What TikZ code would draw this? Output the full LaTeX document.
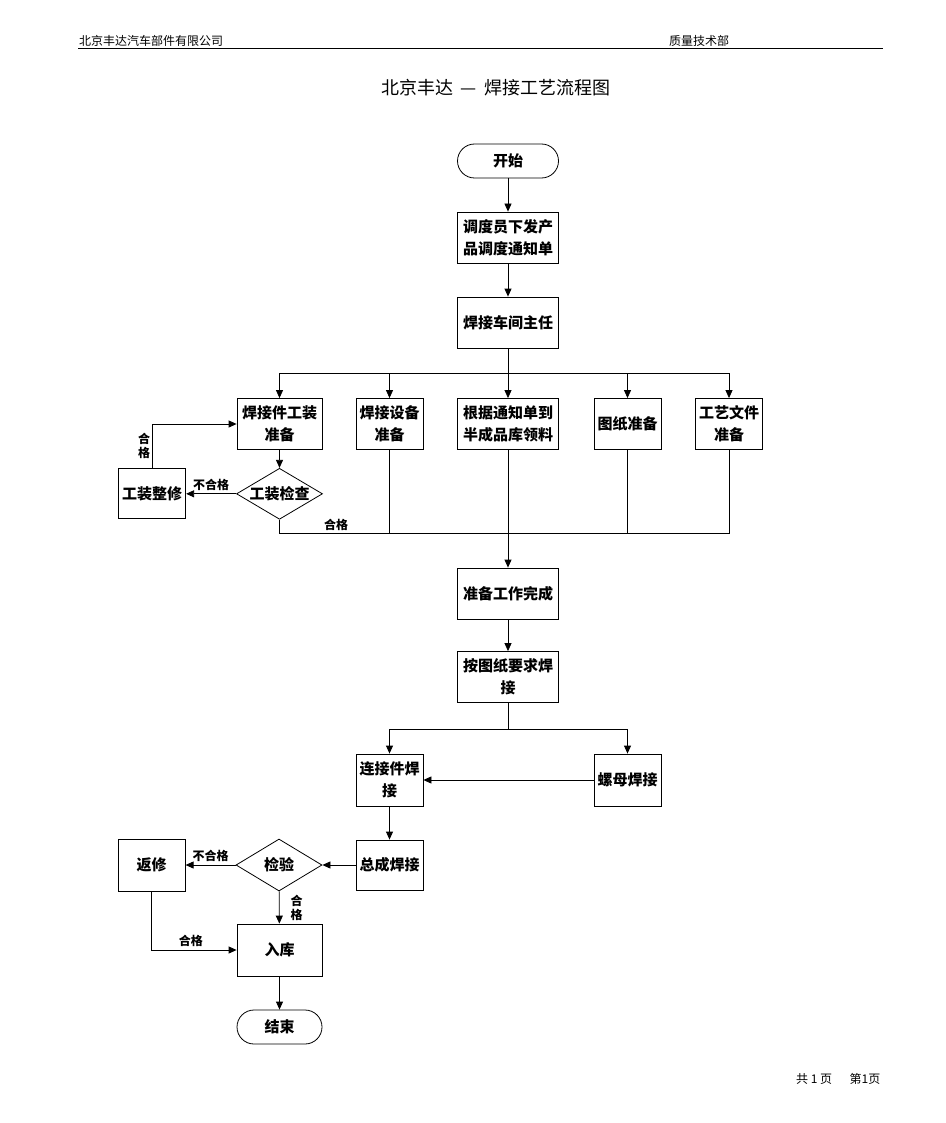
\documentclass[tikz,border=0pt]{standalone}
\usepackage{fontspec}
\setmainfont{Noto Sans CJK SC}
\usepackage{tikz}
\usetikzlibrary{shapes.geometric, arrows.meta, positioning}

\begin{document}
\begin{tikzpicture}[
        x=1pt, y=-1pt,
        >={Triangle[length=8pt,width=7pt]},
        terminal/.style={rectangle, rounded corners=17pt, minimum width=85pt, minimum height=34pt, text centered, draw=black, line width=0.8pt, font=\fontsize{15}{22}\selectfont\bfseries},
        process/.style={rectangle, minimum width=101pt, minimum height=51pt, inner sep=2pt, align=center, draw=black, line width=0.8pt, font=\fontsize{15}{22}\selectfont\bfseries},
        small/.style={process, minimum width=67pt},
        decision/.style={diamond, aspect=1.7, minimum width=86pt, minimum height=51pt, inner sep=0pt, text centered, draw=black, line width=0.8pt, font=\fontsize{15}{22}\selectfont\bfseries},
        label/.style={inner sep=0pt, align=center, font=\fontsize{12}{14}\selectfont\bfseries},
        arrow/.style={line width=0.8pt,->},
        wire/.style={line width=0.8pt}
        ]
        \useasboundingbox (0,0) rectangle (945,1123);

        % page header
        \node (company) [anchor=west, inner sep=0pt, font=\fontsize{12}{14}\selectfont] at (79,41) {北京丰达汽车部件有限公司};
        \node (dept) [anchor=west, inner sep=0pt, font=\fontsize{12}{14}\selectfont] at (669,41) {质量技术部};
        \draw [line width=1pt] (78,49) -- (883,49);
        \node (title) [font=\fontsize{18}{22}\selectfont] at (496,88) {北京丰达 \,—\, 焊接工艺流程图};

        % main column
        \node (start) [terminal, minimum width=101pt] at (508,161) {开始};
        \node (notice) [process] at (508,237.5) {调度员下发产\\品调度通知单};
        \node (director) [process] at (508,322.5) {焊接车间主任};
        \node (material) [process] at (508,424) {根据通知单到\\半成品库领料};
        \node (fixture) [process, minimum width=85pt] at (279.5,424) {焊接件工装\\准备};
        \node (equip) [small] at (389.5,424) {焊接设备\\准备};
        \node (drawing) [small] at (627.5,424) {图纸准备};
        \node (docs) [small] at (729,424) {工艺文件\\准备};
        \node (check) [decision, below=18pt of fixture] {工装检查};
        \node (fixrepair) [small, minimum height=50pt, left=50pt of check] {工装整修};
        \node (ready) [process] at (508,593.5) {准备工作完成};
        \node (weld) [process] at (508,677) {按图纸要求焊\\接};
        \node (joint) [small, minimum height=52pt] at (389.5,780) {连接件焊\\接};
        \node (nut) [small, minimum height=52pt] at (627.5,780) {螺母焊接};
        \node (assembly) [small, minimum height=50pt] at (389.5,865) {总成焊接};
        \node (inspect) [decision, minimum height=52pt] at (279,865) {检验};
        \node (rework) [small, minimum height=52pt, left=50pt of inspect] {返修};
        \node (store) [process, minimum width=85pt, minimum height=52pt] at (279.5,950) {入库};
        \node (finish) [terminal] at (279.5,1027) {结束};

        \coordinate (bus) at (508,373);
        \coordinate (merge) at (508,533);
        \coordinate (split) at (508,729);

        \draw [arrow] (start) -- (notice);
        \draw [arrow] (notice) -- (director);
        \draw [arrow] (director) -- (material);
        \draw [arrow] (bus) -| (fixture);
        \draw [arrow] (bus) -| (equip);
        \draw [arrow] (bus) -| (drawing);
        \draw [arrow] (bus) -| (docs);
        \draw [arrow] (fixture) -- (check);
        \draw [arrow] (check) -- node[label, above=3pt] {不合格} (fixrepair);
        \draw [arrow] (fixrepair.north) |- (fixture.west);
        \node (ok1) [label] at (144,446) {合\\格};
        \draw [wire] (check.south) |- (merge);
        \draw [wire] (equip.south) |- (merge);
        \draw [wire] (drawing.south) |- (merge);
        \draw [wire] (docs.south) |- (merge);
        \node (ok2) [label] at (336,525) {合格};
        \draw [arrow] (material) -- (ready);
        \draw [arrow] (ready) -- (weld);
        \draw [wire] (weld) -- (split);
        \draw [arrow] (split) -| (joint);
        \draw [arrow] (split) -| (nut);
        \draw [arrow] (nut) -- (joint);
        \draw [arrow] (joint) -- (assembly);
        \draw [arrow] (assembly) -- (inspect);
        \draw [arrow] (inspect) -- node[label, above=3pt] {不合格} (rework);
        \draw [arrow] (inspect) -- node[label, right=11pt] {合\\格} (store);
        \draw [arrow] (rework.south) |- node[label, pos=0.73, above=3pt] {合格} (store.west);
        \draw [arrow] (store) -- (finish);

        % page footer
        \node (pages) [anchor=west, inner sep=0pt, font=\fontsize{12}{14}\selectfont] at (796,1079) {共 1 页\quad\ \ 第1页};
    \end{tikzpicture}
\end{document}
